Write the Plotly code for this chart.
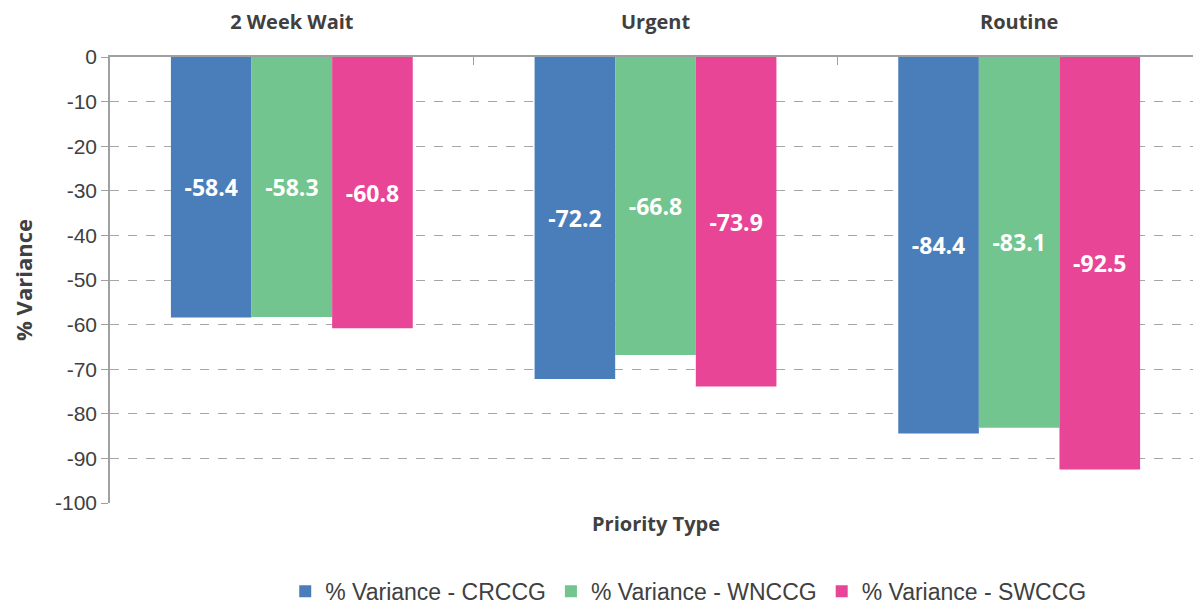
import plotly.graph_objects as go

categories = ["2 Week Wait", "Urgent", "Routine"]
series_names = ["% Variance - CRCCG", "% Variance - WNCCG", "% Variance - SWCCG"]
crccg = [-58.4, -72.2, -84.4]
wnccg = [-58.3, -66.8, -83.1]
swccg = [-60.8, -73.9, -92.5]
y_ticks = [0, -10, -20, -30, -40, -50, -60, -70, -80, -90, -100]

colors = ["#4A7EBB", "#72C58E", "#E84597"]
text_grey = "#404040"
axis_grey = "#A0A0A0"

fig = go.Figure()
for name, vals, col in zip(series_names, [crccg, wnccg, swccg], colors):
    fig.add_trace(go.Bar(
        x=categories,
        y=vals,
        name=name,
        marker=dict(color=col, line=dict(width=0)),
        text=[f"{v:.1f}" for v in vals],
        textposition="inside",
        insidetextanchor="middle",
        textangle=0,
        textfont=dict(family="Open Sans", size=23, color="white", weight="bold"),
    ))

# page body has an 8px margin, so the figure is sized a bit smaller than the window
fig.update_layout(
    barmode="group",
    bargap=0.335,
    bargroupgap=0,
    width=1193,
    height=598,
    margin=dict(l=102, r=0, t=49, b=103, autoexpand=False),
    plot_bgcolor="white",
    paper_bgcolor="white",
    font=dict(family="Liberation Sans, Arial", color=text_grey),
    showlegend=True,
    legend=dict(
        orientation="h",
        x=0.53, xanchor="center",
        y=-0.198, yanchor="middle",
        font=dict(family="Liberation Sans, Arial", size=23, color=text_grey),
        itemwidth=30,
        traceorder="normal",
    ),
    xaxis=dict(
        side="top",
        automargin=False,
        showline=True,
        linecolor=axis_grey,
        linewidth=1.5,
        ticks="inside",
        tickson="boundaries",
        ticklen=8,
        tickcolor=axis_grey,
        ticklabelstandoff=18,
        tickfont=dict(family="Open Sans", size=20, color=text_grey, weight="bold"),
        showgrid=False,
    ),
    yaxis=dict(
        range=[-100, 0],
        automargin=False,
        tickvals=y_ticks,
        ticktext=[str(v) for v in y_ticks],
        showline=True,
        linecolor=axis_grey,
        linewidth=1.5,
        ticks="outside",
        ticklen=7,
        tickcolor=axis_grey,
        tickfont=dict(family="Liberation Sans, Arial", size=21, color=text_grey),
        showgrid=True,
        gridcolor="#A6A6A6",
        griddash="dash",
        gridwidth=1,
        zeroline=False,
        title=dict(text="% Variance",
                   font=dict(family="Open Sans", size=22, color=text_grey, weight="bold"),
                   standoff=26),
    ),
)

fig.add_annotation(
    text="Priority Type",
    xref="paper", yref="paper",
    x=0.5, y=0, yshift=-20,
    yanchor="middle",
    showarrow=False,
    font=dict(family="Open Sans", size=20, color=text_grey, weight="bold"),
)

fig.write_html("out.html")
